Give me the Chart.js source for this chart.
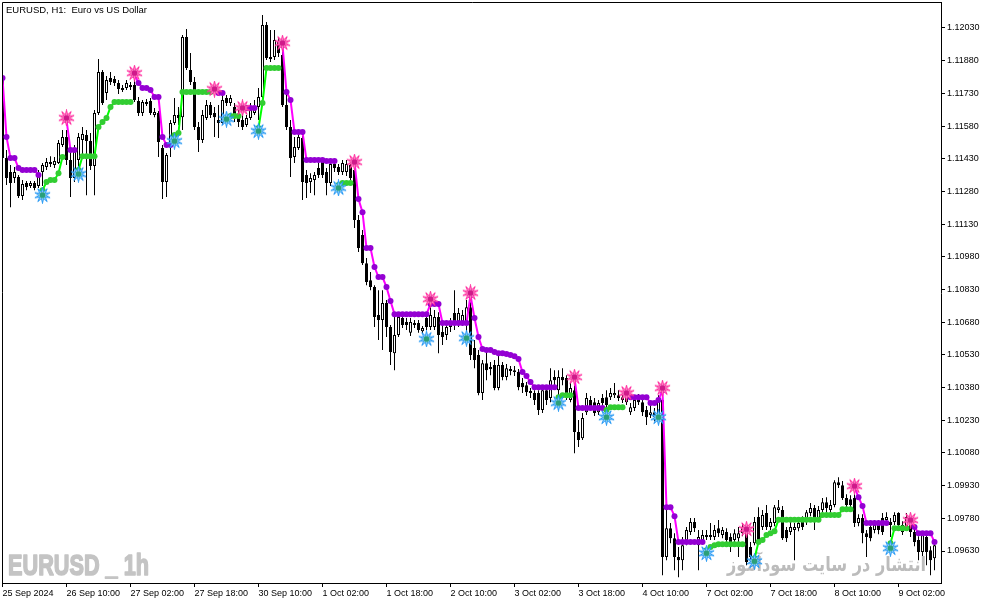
<!DOCTYPE html>
<html><head><meta charset="utf-8">
<script src="https://cdn.jsdelivr.net/npm/chart.js@4.4.1/dist/chart.umd.min.js"></script>
<style>html,body{margin:0;padding:0;background:#fff;overflow:hidden}canvas{display:block}</style>
</head><body>
<canvas id="c" width="994" height="605"></canvas>
<script>
// ---- data ----
const titleText = "EURUSD, H1:  Euro vs US Dollar";
const watermarkSymbol = "EURUSD _ 1h";
const watermarkSite = "انتشار در سایت سودآموز";

const tickIndex = [0,16,32,48,64,80,96,112,128,144,160,176,192,208,224];
const tickLabels = ["25 Sep 2024","26 Sep 10:00","27 Sep 02:00","27 Sep 18:00","30 Sep 10:00","1 Oct 02:00","1 Oct 18:00","2 Oct 10:00","3 Oct 02:00","3 Oct 18:00","4 Oct 10:00","7 Oct 02:00","7 Oct 18:00","8 Oct 10:00","9 Oct 02:00"];
const yTicks = [1.12030,1.11880,1.11730,1.11580,1.11430,1.11280,1.11130,1.10980,1.10830,1.10680,1.10530,1.10380,1.10230,1.10080,1.09930,1.09780,1.09630];

const open = [
1.11791,1.11433,1.11369,1.11342,1.11346,1.11259,1.11319,1.11305,1.11319,1.11305,
1.11369,1.11392,1.11415,1.11401,1.11410,1.11493,1.11530,1.11424,1.11342,1.11424,
1.11516,1.11539,1.11511,1.11397,1.11640,1.11828,1.11732,1.11800,1.11796,1.11778,
1.11745,1.11755,1.11768,1.11768,1.11695,1.11640,1.11690,1.11695,1.11631,1.11640,
1.11479,1.11323,1.11484,1.11594,1.11631,1.11621,1.11989,1.11837,1.11782,1.11576,
1.11516,1.11617,1.11677,1.11640,1.11608,1.11594,1.11709,1.11686,1.11667,1.11631,
1.11608,1.11585,1.11617,1.11640,1.11667,1.11713,1.12044,1.11897,1.11897,1.11966,
1.11906,1.11677,1.11576,1.11438,1.11479,1.11525,1.11355,1.11323,1.11332,1.11387,
1.11415,1.11369,1.11319,1.11406,1.11392,1.11369,1.11369,1.11401,1.11378,1.11149,
1.11080,1.10951,1.10873,1.10841,1.10713,1.10690,1.10768,1.10658,1.10538,1.10621,
1.10699,1.10681,1.10631,1.10676,1.10676,1.10639,1.10699,1.10658,1.10658,1.10704,
1.10635,1.10621,1.10658,1.10722,1.10676,1.10681,1.10681,1.10749,1.10561,1.10529,
1.10355,1.10492,1.10474,1.10483,1.10378,1.10483,1.10428,1.10465,1.10460,1.10451,
1.10401,1.10391,1.10364,1.10355,1.10355,1.10277,1.10368,1.10332,1.10428,1.10368,
1.10428,1.10424,1.10323,1.10368,1.10176,1.10148,1.10267,1.10323,1.10313,1.10267,
1.10332,1.10336,1.10336,1.10345,1.10345,1.10323,1.10313,1.10267,1.10286,1.10336,
1.10313,1.10277,1.10254,1.10267,1.10254,1.10323,1.09602,1.09735,1.09689,1.09602,
1.09588,1.09675,1.09717,1.09763,1.09657,1.09680,1.09694,1.09703,1.09694,1.09735,
1.09703,1.09717,1.09694,1.09680,1.09689,1.09712,1.09735,1.09648,1.09666,1.09786,
1.09740,1.09804,1.09740,1.09758,1.09818,1.09818,1.09726,1.09717,1.09726,1.09735,
1.09772,1.09763,1.09804,1.09827,1.09781,1.09818,1.09854,1.09818,1.09841,1.09946,
1.09932,1.09873,1.09868,1.09873,1.09758,1.09781,1.09712,1.09740,1.09726,1.09749,
1.09781,1.09772,1.09763,1.09763,1.09804,1.09749,1.09740,1.09749,1.09717,1.09680,
1.09625,1.09694,1.09634,1.09597];

const high = [
1.11819,1.11470,1.11401,1.11392,1.11355,1.11332,1.11328,1.11328,1.11328,1.11378,
1.11410,1.11433,1.11442,1.11438,1.11516,1.11562,1.11562,1.11470,1.11493,1.11548,
1.11576,1.11562,1.11548,1.11654,1.11888,1.11837,1.11810,1.11828,1.11810,1.11791,
1.11768,1.11791,1.11782,1.11791,1.11713,1.11700,1.11704,1.11709,1.11663,1.11649,
1.11493,1.11456,1.11608,1.11709,1.11667,1.11998,1.12025,1.11915,1.11805,1.11599,
1.11654,1.11700,1.11690,1.11667,1.11677,1.11722,1.11722,1.11722,1.11686,1.11654,
1.11640,1.11631,1.11686,1.11700,1.11755,1.12090,1.12058,1.12021,1.12021,1.11984,
1.11929,1.11732,1.11608,1.11530,1.11548,1.11534,1.11378,1.11364,1.11369,1.11410,
1.11433,1.11387,1.11424,1.11424,1.11406,1.11424,1.11424,1.11415,1.11401,1.11172,
1.11103,1.10974,1.10910,1.10850,1.10827,1.10827,1.10782,1.10667,1.10713,1.10722,
1.10713,1.10699,1.10699,1.10690,1.10690,1.10663,1.10713,1.10759,1.10736,1.10726,
1.10667,1.10681,1.10699,1.10827,1.10745,1.10736,1.10782,1.10772,1.10598,1.10552,
1.10506,1.10543,1.10497,1.10506,1.10543,1.10497,1.10488,1.10479,1.10479,1.10465,
1.10424,1.10405,1.10378,1.10368,1.10368,1.10378,1.10391,1.10469,1.10460,1.10460,
1.10469,1.10437,1.10401,1.10391,1.10231,1.10263,1.10355,1.10341,1.10332,1.10323,
1.10350,1.10368,1.10378,1.10401,1.10368,1.10355,1.10355,1.10309,1.10336,1.10350,
1.10327,1.10295,1.10300,1.10286,1.10345,1.10355,1.09831,1.09758,1.09712,1.09648,
1.09694,1.09740,1.09781,1.09781,1.09726,1.09726,1.09726,1.09758,1.09749,1.09772,
1.09740,1.09735,1.09712,1.09730,1.09740,1.09758,1.09749,1.09671,1.09786,1.09831,
1.09818,1.09841,1.09781,1.09841,1.09864,1.09836,1.09740,1.09763,1.09758,1.09772,
1.09790,1.09818,1.09850,1.09841,1.09836,1.09873,1.09877,1.09864,1.09955,1.09969,
1.09951,1.09891,1.09886,1.09891,1.09799,1.09799,1.09726,1.09763,1.09772,1.09772,
1.09804,1.09808,1.09781,1.09808,1.09808,1.09767,1.09804,1.09767,1.09735,1.09698,
1.09717,1.09712,1.09652,1.09680];

const low = [
1.11424,1.11309,1.11208,1.11319,1.11250,1.11241,1.11286,1.11296,1.11286,1.11296,
1.11305,1.11378,1.11392,1.11387,1.11406,1.11484,1.11401,1.11254,1.11323,1.11387,
1.11433,1.11263,1.11378,1.11263,1.11631,1.11677,1.11700,1.11768,1.11764,1.11727,
1.11736,1.11745,1.11745,1.11690,1.11626,1.11626,1.11672,1.11631,1.11621,1.11438,
1.11245,1.11254,1.11438,1.11585,1.11585,1.11562,1.11837,1.11768,1.11562,1.11461,
1.11502,1.11608,1.11617,1.11530,1.11525,1.11585,1.11672,1.11672,1.11599,1.11576,
1.11562,1.11576,1.11608,1.11631,1.11608,1.11700,1.11883,1.11874,1.11883,1.11897,
1.11667,1.11562,1.11346,1.11410,1.11470,1.11241,1.11250,1.11273,1.11263,1.11342,
1.11342,1.11263,1.11305,1.11369,1.11355,1.11355,1.11351,1.11332,1.11112,1.11002,
1.10942,1.10850,1.10827,1.10658,1.10598,1.10552,1.10612,1.10483,1.10460,1.10612,
1.10653,1.10644,1.10617,1.10653,1.10631,1.10626,1.10644,1.10644,1.10644,1.10538,
1.10575,1.10598,1.10635,1.10644,1.10658,1.10663,1.10635,1.10506,1.10469,1.10345,
1.10323,1.10414,1.10437,1.10368,1.10368,1.10414,1.10414,1.10437,1.10433,1.10368,
1.10355,1.10341,1.10332,1.10300,1.10254,1.10263,1.10300,1.10313,1.10391,1.10345,
1.10391,1.10323,1.10313,1.10079,1.10107,1.10139,1.10254,1.10277,1.10249,1.10254,
1.10295,1.10286,1.10323,1.10332,1.10318,1.10309,1.10300,1.10254,1.10272,1.10300,
1.10249,1.10208,1.10240,1.10226,1.10240,1.09519,1.09588,1.09666,1.09542,1.09510,
1.09542,1.09657,1.09703,1.09717,1.09542,1.09666,1.09680,1.09680,1.09680,1.09694,
1.09689,1.09666,1.09625,1.09666,1.09602,1.09698,1.09565,1.09579,1.09657,1.09671,
1.09726,1.09726,1.09726,1.09744,1.09804,1.09680,1.09671,1.09703,1.09588,1.09721,
1.09726,1.09749,1.09790,1.09726,1.09767,1.09808,1.09808,1.09804,1.09831,1.09919,
1.09864,1.09827,1.09818,1.09740,1.09744,1.09666,1.09602,1.09675,1.09712,1.09707,
1.09703,1.09758,1.09694,1.09749,1.09735,1.09703,1.09726,1.09694,1.09652,1.09588,
1.09607,1.09565,1.09519,1.09542];

const close = [
1.11433,1.11342,1.11319,1.11369,1.11259,1.11314,1.11300,1.11319,1.11296,1.11360,
1.11401,1.11415,1.11406,1.11420,1.11502,1.11530,1.11424,1.11342,1.11470,1.11530,
1.11543,1.11511,1.11397,1.11640,1.11828,1.11686,1.11791,1.11782,1.11778,1.11750,
1.11755,1.11778,1.11759,1.11700,1.11640,1.11690,1.11681,1.11640,1.11644,1.11507,
1.11323,1.11447,1.11594,1.11631,1.11617,1.11989,1.11846,1.11782,1.11576,1.11516,
1.11631,1.11677,1.11631,1.11621,1.11594,1.11700,1.11686,1.11709,1.11621,1.11599,
1.11576,1.11617,1.11654,1.11667,1.11713,1.12044,1.11892,1.11888,1.11975,1.11915,
1.11677,1.11576,1.11433,1.11484,1.11530,1.11323,1.11319,1.11342,1.11355,1.11355,
1.11355,1.11319,1.11406,1.11387,1.11369,1.11410,1.11406,1.11342,1.11149,1.11020,
1.10951,1.10864,1.10841,1.10704,1.10690,1.10768,1.10658,1.10543,1.10621,1.10704,
1.10667,1.10667,1.10681,1.10667,1.10644,1.10653,1.10658,1.10713,1.10704,1.10621,
1.10612,1.10658,1.10676,1.10681,1.10722,1.10713,1.10749,1.10529,1.10506,1.10355,
1.10492,1.10460,1.10465,1.10378,1.10483,1.10428,1.10469,1.10456,1.10451,1.10382,
1.10382,1.10359,1.10355,1.10323,1.10277,1.10368,1.10323,1.10414,1.10414,1.10428,
1.10414,1.10355,1.10378,1.10176,1.10139,1.10240,1.10332,1.10290,1.10263,1.10309,
1.10309,1.10300,1.10355,1.10355,1.10332,1.10336,1.10336,1.10290,1.10323,1.10313,
1.10267,1.10244,1.10267,1.10244,1.10323,1.09602,1.09735,1.09689,1.09602,1.09588,
1.09657,1.09726,1.09763,1.09735,1.09694,1.09703,1.09703,1.09694,1.09726,1.09712,
1.09726,1.09680,1.09666,1.09712,1.09712,1.09735,1.09579,1.09602,1.09763,1.09680,
1.09795,1.09740,1.09763,1.09831,1.09831,1.09689,1.09689,1.09740,1.09740,1.09758,
1.09740,1.09808,1.09827,1.09772,1.09818,1.09854,1.09827,1.09841,1.09946,1.09932,
1.09873,1.09841,1.09841,1.09758,1.09781,1.09712,1.09694,1.09689,1.09749,1.09726,
1.09717,1.09786,1.09749,1.09795,1.09749,1.09717,1.09786,1.09717,1.09671,1.09625,
1.09703,1.09625,1.09588,1.09657];

// trailing-stop indicator level per bar
const trail = [
1.11800,1.11530,1.11433,1.11433,1.11387,1.11378,1.11378,1.11378,1.11378,1.11355,
1.11286,1.11323,1.11332,1.11332,1.11364,1.11438,1.11608,1.11470,1.11470,1.11378,
1.11442,1.11442,1.11442,1.11442,1.11576,1.11599,1.11617,1.11667,1.11690,1.11690,
1.11690,1.11690,1.11690,1.11814,1.11778,1.11755,1.11755,1.11745,1.11713,1.11713,
1.11530,1.11493,1.11493,1.11539,1.11548,1.11736,1.11736,1.11736,1.11736,1.11736,
1.11736,1.11736,1.11736,1.11745,1.11732,1.11732,1.11608,1.11626,1.11626,1.11626,
1.11663,1.11663,1.11663,1.11663,1.11571,1.11686,1.11846,1.11846,1.11846,1.11846,
1.11952,1.11736,1.11700,1.11553,1.11553,1.11553,1.11424,1.11424,1.11424,1.11424,
1.11424,1.11420,1.11420,1.11420,1.11309,1.11319,1.11319,1.11319,1.11415,1.11245,
1.11185,1.11020,1.11020,1.10933,1.10887,1.10887,1.10841,1.10777,1.10717,1.10717,
1.10717,1.10717,1.10717,1.10717,1.10717,1.10717,1.10717,1.10763,1.10763,1.10763,
1.10676,1.10676,1.10676,1.10676,1.10676,1.10676,1.10676,1.10804,1.10699,1.10612,
1.10557,1.10552,1.10552,1.10543,1.10538,1.10538,1.10534,1.10529,1.10524,1.10511,
1.10451,1.10433,1.10405,1.10382,1.10382,1.10382,1.10382,1.10382,1.10382,1.10336,
1.10345,1.10345,1.10345,1.10424,1.10286,1.10286,1.10286,1.10286,1.10286,1.10286,
1.10286,1.10277,1.10290,1.10290,1.10290,1.10290,1.10355,1.10336,1.10336,1.10336,
1.10336,1.10336,1.10309,1.10309,1.10323,1.10368,1.09831,1.09831,1.09790,1.09671,
1.09671,1.09671,1.09671,1.09671,1.09671,1.09671,1.09634,1.09648,1.09657,1.09661,
1.09661,1.09661,1.09661,1.09661,1.09661,1.09661,null,null,1.09597,1.09671,
1.09680,1.09703,1.09712,1.09721,1.09774,1.09774,1.09774,1.09774,1.09774,1.09774,
1.09774,1.09774,1.09774,1.09774,1.09774,1.09795,1.09795,1.09795,1.09795,1.09795,
1.09822,1.09822,1.09822,1.09923,1.09877,1.09836,1.09758,1.09758,1.09758,1.09758,
1.09758,1.09758,1.09666,1.09735,1.09735,1.09735,1.09735,1.09767,1.09740,1.09712,
1.09712,1.09712,1.09712,1.09671];

// trend state runs: d = down (purple), u = up (green), n = none
const trendRuns = [["d",10],["u",6],["d",3],["u",14],["d",10],["u",10],["d",3],["u",4],["d",4],["u",6],["d",14],["u",4],["d",51],["u",4],["d",8],["u",5],["d",20],["u",10],["n",2],["u",25],["d",9],["u",5],["d",7]];

const sellIdx = [16,33,53,60,70,88,107,117,143,156,165,186,213,227];
const sellVal = [1.11617,1.11823,1.11750,1.11663,1.11961,1.11415,1.10786,1.10814,1.10428,1.10355,1.10378,1.09730,1.09928,1.09772];
const buyIdx  = [10,19,43,56,64,84,106,116,139,151,164,176,188,222];
const buyVal  = [1.11263,1.11360,1.11511,1.11612,1.11557,1.11296,1.10603,1.10607,1.10309,1.10244,1.10244,1.09620,1.09583,1.09643];

// ---- build ----
const trend = [];
trendRuns.forEach(([s, n]) => { for (let i = 0; i < n; i++) trend.push(s); });

function makeStar(fill, stroke, core) {
  const c = document.createElement('canvas');
  c.width = 17; c.height = 17;
  const g = c.getContext('2d');
  const cx = 8.5, cy = 8.5, n = 10, ro = 8, ri = 3.4;
  g.beginPath();
  for (let i = 0; i < 2 * n; i++) {
    const r = i % 2 ? ri : ro;
    const a = -Math.PI / 2 + i * Math.PI / n;
    g.lineTo(cx + r * Math.cos(a), cy + r * Math.sin(a));
  }
  g.closePath();
  g.fillStyle = fill; g.fill();
  g.strokeStyle = stroke; g.lineWidth = 1; g.stroke();
  g.beginPath(); g.arc(cx, cy, 3, 0, Math.PI * 2);
  g.fillStyle = core; g.fill();
  return c;
}
const sellStar = makeStar('#ffa6d6', '#ff2a9d', '#d0198a');
const buyStar = makeStar('#a8dcff', '#2196f3', '#2aa07a');

const wickData = open.map((o, i) => ({ x: i, y: [low[i], high[i]] }));
const bodyData = open.map((o, i) => ({ x: i, y: [o, close[i]] }));
const bodyColors = open.map((o, i) => close[i] >= o ? '#ffffff' : '#000000');
const trailData = trail.map((v, i) => ({ x: i, y: v }));
const trailColors = trend.map(t => t === 'u' ? '#32cd32' : '#9400d3');

const framePlugin = {
  id: 'frame',
  beforeDatasetsDraw(chart) {
    const { ctx } = chart;
    ctx.save();
    ctx.fillStyle = '#c4c4c4';
    ctx.strokeStyle = '#c4c4c4';
    ctx.lineWidth = 1.6;
    ctx.lineJoin = 'round';
    ctx.font = 'bold 30px "Liberation Sans", Arial, sans-serif';
    let w = ctx.measureText(watermarkSymbol).width;
    ctx.translate(8, 575);
    ctx.scale(141 / w, 1);
    ctx.textBaseline = 'alphabetic';
    ctx.fillText(watermarkSymbol, 0, 0);
    ctx.strokeText(watermarkSymbol, 0, 0);
    ctx.restore();
    ctx.save();
    ctx.fillStyle = '#bcbcbc';
    ctx.font = 'bold 20px "DejaVu Sans", sans-serif';
    ctx.direction = 'rtl';
    ctx.textAlign = 'right';
    w = ctx.measureText(watermarkSite).width;
    ctx.translate(926, 571);
    ctx.scale(199 / w, 1);
    ctx.fillText(watermarkSite, 0, 0);
    ctx.restore();
  },
  afterDraw(chart) {
    const { ctx, chartArea: a } = chart;
    ctx.save();
    ctx.strokeStyle = '#000'; ctx.lineWidth = 1;
    ctx.beginPath();
    ctx.moveTo(a.left + 0.5, a.bottom);
    ctx.lineTo(a.left + 0.5, a.top - 0.5);
    ctx.lineTo(a.right + 1, a.top - 0.5);
    ctx.stroke();
    ctx.fillStyle = '#000';
    ctx.font = '9.5px "Liberation Sans", Arial, sans-serif';
    ctx.textBaseline = 'alphabetic';
    ctx.fillText(titleText, 6, 13);
    ctx.restore();
  }
};

const tickFont = { family: '"Liberation Sans", Arial, sans-serif', size: 9 };

new Chart(document.getElementById('c'), {
  type: 'bar',
  data: {
    datasets: [
      { type: 'line', data: sellIdx.map((k, j) => ({ x: k, y: sellVal[j] })), showLine: false,
        pointStyle: sellStar, pointRadius: 8, order: 0, clip: false },
      { type: 'line', data: buyIdx.map((k, j) => ({ x: k, y: buyVal[j] })), showLine: false,
        pointStyle: buyStar, pointRadius: 8, order: 0, clip: false },
      { type: 'line', data: trailData, order: 1, spanGaps: false,
        borderWidth: 2, borderColor: '#ff00ff',
        pointRadius: 3, pointBorderWidth: 0, pointBackgroundColor: trailColors,
        segment: {
          borderColor: c => {
            const a = trend[c.p0DataIndex], b = trend[c.p1DataIndex];
            if (a !== b) return 'rgba(0,0,0,0)';
            return a === 'u' ? '#00ff00' : '#ff00ff';
          }
        } },
      { type: 'bar', data: bodyData, order: 2, barThickness: 3, grouped: false,
        backgroundColor: bodyColors, borderColor: '#000', borderWidth: 1,
        borderSkipped: false, minBarLength: 1, inflateAmount: 0 },
      { type: 'bar', data: wickData, order: 3, barThickness: 1, grouped: false,
        backgroundColor: '#000', borderWidth: 0, borderSkipped: false, minBarLength: 1, inflateAmount: 0 }
    ]
  },
  options: {
    responsive: false,
    animation: false,
    devicePixelRatio: 1,
    layout: { autoPadding: false, padding: { left: 2, top: 3, right: 0, bottom: 0 } },
    plugins: { legend: { display: false }, tooltip: { enabled: false } },
    events: [],
    scales: {
      x: {
        type: 'linear', min: -0.125, max: 234.625, offset: false, bounds: 'data',
        grid: { drawOnChartArea: false, drawTicks: true, tickLength: 4, tickColor: '#000', offset: false },
        border: { display: true, color: '#000', width: 1 },
        ticks: {
          autoSkip: false, maxRotation: 0, minRotation: 0, align: 'start', padding: 1,
          color: '#000', font: tickFont,
          callback: (v) => { const j = tickIndex.indexOf(v); return j >= 0 ? tickLabels[j] : ''; }
        },
        afterBuildTicks: s => { s.ticks = tickIndex.map(v => ({ value: v })); },
        afterFit: s => { s.height = 22; s.paddingLeft = 0; s.paddingRight = 0; s.paddingTop = 0; s.paddingBottom = 0; }
      },
      y: {
        type: 'linear', position: 'right', min: 1.094832, max: 1.121447, bounds: 'data',
        grid: { drawOnChartArea: false, drawTicks: true, tickLength: 4, tickColor: '#000' },
        border: { display: true, color: '#000', width: 1 },
        ticks: { padding: 2, color: '#000', font: tickFont, callback: v => Number(v).toFixed(5) },
        afterBuildTicks: s => { s.ticks = yTicks.map(v => ({ value: v })); },
        afterFit: s => { s.width = 53; s.paddingLeft = 0; s.paddingRight = 0; s.paddingTop = 0; s.paddingBottom = 0; }
      }
    }
  },
  plugins: [framePlugin]
});
</script>
</body></html>
